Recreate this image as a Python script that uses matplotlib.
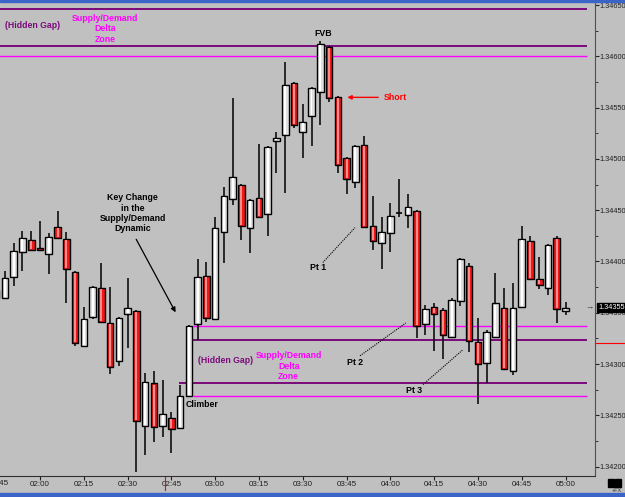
import matplotlib
matplotlib.use("Agg")
import matplotlib.pyplot as plt
import matplotlib.transforms as mtransforms
from matplotlib.patches import Rectangle
from matplotlib.ticker import MultipleLocator, FuncFormatter
import numpy as np
import pandas as pd

plt.rcParams['font.family'] = ['Liberation Sans', 'DejaVu Sans']

# 3 minute candles, 01:45 -> 05:00
times = pd.date_range("2011-01-01 01:45", periods=66, freq="3min")
opens = [1.34364, 1.34364, 1.34385, 1.34409, 1.34421, 1.34413, 1.34407, 1.34434, 1.34422, 1.34390,
         1.34318, 1.34346, 1.34374, 1.34340, 1.34303, 1.34349, 1.34352, 1.34240, 1.34281, 1.34240,
         1.34247, 1.34238, 1.34269, 1.34339, 1.34386, 1.34344, 1.34429, 1.34461, 1.34475, 1.34433,
         1.34462, 1.34446, 1.34517, 1.34523, 1.34574, 1.34526, 1.34542, 1.34565, 1.34609, 1.34560,
         1.34501, 1.34477, 1.34514, 1.34435, 1.34418, 1.34428, 1.34447, 1.34445, 1.34449, 1.34339,
         1.34356, 1.34353, 1.34326, 1.34361, 1.34396, 1.34321, 1.34301, 1.34326, 1.34355, 1.34293,
         1.34356, 1.34420, 1.34383, 1.34374, 1.34423, 1.34352]
highs = [1.34376, 1.34391, 1.34418, 1.34430, 1.34430, 1.34439, 1.34428, 1.34449, 1.34429, 1.34391,
         1.34356, 1.34376, 1.34398, 1.34375, 1.34346, 1.34384, 1.34353, 1.34291, 1.34293, 1.34284,
         1.34253, 1.34280, 1.34338, 1.34402, 1.34399, 1.34443, 1.34473, 1.34559, 1.34476, 1.34461,
         1.34515, 1.34513, 1.34526, 1.34594, 1.34575, 1.34554, 1.34570, 1.34615, 1.34610, 1.34561,
         1.34502, 1.34514, 1.34522, 1.34464, 1.34443, 1.34457, 1.34480, 1.34466, 1.34450, 1.34358,
         1.34359, 1.34355, 1.34364, 1.34403, 1.34398, 1.34345, 1.34333, 1.34389, 1.34374, 1.34379,
         1.34435, 1.34425, 1.34404, 1.34417, 1.34425, 1.34360]
lows = [1.34362, 1.34364, 1.34376, 1.34391, 1.34411, 1.34411, 1.34388, 1.34423, 1.34359, 1.34318,
        1.34317, 1.34344, 1.34340, 1.34290, 1.34298, 1.34316, 1.34195, 1.34211, 1.34224, 1.34229,
        1.34213, 1.34237, 1.34268, 1.34323, 1.34341, 1.34343, 1.34398, 1.34455, 1.34421, 1.34408,
        1.34442, 1.34425, 1.34486, 1.34467, 1.34530, 1.34501, 1.34513, 1.34533, 1.34555, 1.34486,
        1.34466, 1.34472, 1.34433, 1.34411, 1.34393, 1.34409, 1.34443, 1.34433, 1.34325, 1.34328,
        1.34313, 1.34305, 1.34325, 1.34357, 1.34312, 1.34261, 1.34281, 1.34325, 1.34294, 1.34289,
        1.34355, 1.34382, 1.34373, 1.34367, 1.34340, 1.34348]
closes = [1.34372, 1.34384, 1.34410, 1.34423, 1.34411, 1.34411, 1.34424, 1.34423, 1.34393, 1.34320,
          1.34344, 1.34375, 1.34341, 1.34297, 1.34345, 1.34355, 1.34244, 1.34282, 1.34239, 1.34251,
          1.34237, 1.34269, 1.34337, 1.34385, 1.34345, 1.34433, 1.34464, 1.34482, 1.34435, 1.34460,
          1.34443, 1.34512, 1.34520, 1.34572, 1.34533, 1.34536, 1.34569, 1.34612, 1.34559, 1.34494,
          1.34480, 1.34513, 1.34434, 1.34420, 1.34429, 1.34444, 1.34447, 1.34453, 1.34337, 1.34354,
          1.34349, 1.34328, 1.34362, 1.34402, 1.34322, 1.34300, 1.34331, 1.34359, 1.34295, 1.34355,
          1.34422, 1.34383, 1.34377, 1.34416, 1.34354, 1.34355]

# supply/demand zone levels
top_dark = [1.34646, 1.34610]
top_magenta = [1.34600]
low_dark = [1.34323, 1.34281]
low_magenta = [1.34337, 1.34269]
last_price = 1.34355
cursor_price = 1.34320

x = np.array([t.hour * 60 + t.minute for t in times], dtype=float)
o = np.array(opens); h = np.array(highs); l = np.array(lows); c = np.array(closes)

BG = '#c0c0c0'
DARK = '#7a0a7a'
MAG = '#ff00ff'

fig = plt.figure(figsize=(6.25, 4.97), dpi=100, facecolor=BG)
ax = fig.add_axes([0, 21 / 497, 595 / 625, 473 / 497], facecolor=BG)

# candles
w = 2.25
up = c >= o
ax.vlines(x, l, h, color='black', lw=1.1, zorder=2)
body_lo = np.minimum(o, c)
body_hi = np.maximum(o, c)
for xi, lo, hi, isup in zip(x, body_lo, body_hi, up):
    if hi - lo < 0.00002:
        ax.hlines(lo, xi - w / 2, xi + w / 2, color='black', lw=1.2, zorder=3)
        continue
    fill = '#dedede' if isup else '#f01818'
    shine = '#ffffff' if isup else '#ff8a8a'
    ax.bar(xi, hi - lo, w, lo, color=fill, edgecolor='black', linewidth=1.0, zorder=3)
    ax.bar(xi, hi - lo - 0.00002, w * 0.3, lo + 0.00001, color=shine, linewidth=0, zorder=4)

# zone lines
x_end = 307.3
for lev in top_dark:
    ax.hlines(lev, 100, x_end, color=DARK, lw=1.4, zorder=1)
for lev in top_magenta:
    ax.hlines(lev, 100, x_end, color=MAG, lw=1.0, zorder=1)
ax.hlines(low_dark[0], 172.4, x_end, color=DARK, lw=1.4, zorder=1)
ax.hlines(low_dark[1], 167.6, x_end, color=DARK, lw=1.4, zorder=1)
for lev in low_magenta:
    ax.hlines(lev, 172.4, x_end, color=MAG, lw=1.0, zorder=1)

# texts
FS = 6.3
tkw = dict(fontsize=FS, fontweight='bold', ha='center', va='center', linespacing=1.2)
ax.text(117.6, 1.34630, '(Hidden Gap)', color=DARK, **tkw)
ax.text(142.3, 1.34627, 'Supply/Demand\nDelta\nZone', color=MAG, **tkw)
ax.text(183.7, 1.34303, '(Hidden Gap)', color=DARK, **tkw)
ax.text(205.2, 1.34298, 'Supply/Demand\nDelta\nZone', color=MAG, **tkw)
ax.text(216.9, 1.34622, 'FVB', color='black', **tkw)
ax.text(241.6, 1.34560, 'Short', color='red', **tkw)
ax.annotate('', xy=(224.3, 1.34560), xytext=(236.8, 1.34560),
            arrowprops=dict(arrowstyle='-|>', color='red', lw=1.0, mutation_scale=6))
ax.text(151.8, 1.34447, 'Key Change\nin the\nSupply/Demand\nDynamic', color='black', **tkw)
ax.annotate('', xy=(166.9, 1.34348), xytext=(152.5, 1.34424),
            arrowprops=dict(arrowstyle='-|>', color='black', lw=0.9, mutation_scale=7))
ax.text(170.0, 1.34261, 'Climber', color='black', fontsize=FS, fontweight='bold', ha='left', va='center')

pts = [('Pt 1', 215.2, 1.34394, (216.9, 1.34399), (227.9, 1.34433)),
       ('Pt 2', 227.9, 1.34301, (229.6, 1.34308), (245.3, 1.34340)),
       ('Pt 3', 248.1, 1.34274, (251.2, 1.34280), (264.9, 1.34314))]
for name, tx, ty, p0, p1 in pts:
    ax.text(tx, ty, name, color='black', **tkw)
    ax.plot([p0[0], p1[0]], [p0[1], p1[1]], color='black', lw=0.8, ls=(0, (1, 1)), zorder=5)

# axes
ax.set_xlim(106.3, 310.1)
ax.set_ylim(1.341908, 1.34652)
for s in ['left', 'top']:
    ax.spines[s].set_visible(False)
ax.spines['bottom'].set_color('#303030')
ax.spines['right'].set_color('#505050')

ax.yaxis.tick_right()
ax.yaxis.set_major_locator(MultipleLocator(0.0005))
ax.yaxis.set_minor_locator(MultipleLocator(0.00025))
ax.yaxis.set_major_formatter(FuncFormatter(lambda v, p: f'{v:.5f}'))
ax.tick_params(axis='y', which='major', length=3, pad=0.5, labelsize=5.3, colors='#202020')
ax.tick_params(axis='y', which='minor', length=2, colors='#202020')

xt = np.arange(120, 301, 15)
ax.set_xticks(xt)
ax.set_xticklabels([f'{int(v // 60):02d}:{int(v % 60):02d}' for v in xt])
ax.tick_params(axis='x', length=3, pad=0.5, labelsize=5.8, colors='#202020')
# clipped 01:45 label at the left edge
ax.text(105.8, -0.008, '01:45', transform=mtransforms.blended_transform_factory(ax.transData, ax.transAxes),
        fontsize=5.8, ha='center', va='top', color='#202020', clip_on=False)

# last price box and cursor marks
yb = mtransforms.blended_transform_factory(ax.transAxes, ax.transData)
ax.text(1.006, last_price, f'{last_price:.5f}', transform=yb, fontsize=5.3, color='white', ha='left', va='center',
        bbox=dict(boxstyle='square,pad=0.15', fc='black', ec='black'), zorder=10, clip_on=False)
ax.text(0.99, last_price, '\u2192', transform=yb, fontsize=6, color='#404040', ha='center', va='center', clip_on=False)
ax.plot([1.0, 1.06], [cursor_price, cursor_price], transform=yb, color='red', lw=0.8, clip_on=False)
xb = mtransforms.blended_transform_factory(ax.transData, ax.transAxes)
ax.plot([162.8, 162.8], [0, -0.03], transform=xb, color='red', lw=0.8, clip_on=False)

# window frame bits
fig.add_artist(Rectangle((0, 1 - 2 / 497), 1, 2 / 497, transform=fig.transFigure, color='#3c64c8'))
fig.add_artist(Rectangle((0, 0), 1, 4 / 497, transform=fig.transFigure, color='#3c64c8'))
fig.add_artist(Rectangle((608 / 625, 10 / 497), 6 / 625, 8 / 497, transform=fig.transFigure, color='black'))
fig.add_artist(Rectangle((615 / 625, 10 / 497), 6 / 625, 8 / 497, transform=fig.transFigure, color='black'))
fig.text(617 / 625, 6 / 497, '+FX', fontsize=4, ha='center', va='center', color='#303030')

fig.savefig('out.png', dpi=100, facecolor=BG)
